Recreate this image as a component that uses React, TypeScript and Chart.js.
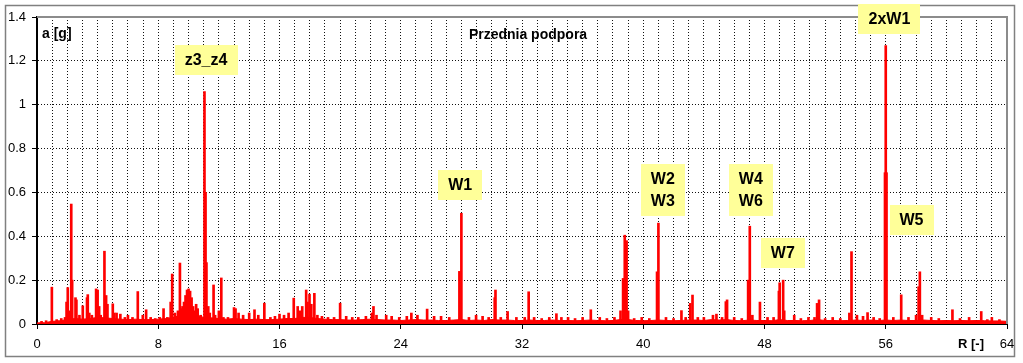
import React, { useEffect, useRef } from 'react';
import { Chart, registerables } from 'chart.js';

Chart.register(...registerables);

const FONT = '"Liberation Sans", Arial, sans-serif';

const chartTitle = 'Przednia podpora';
const yAxisTitle = 'a [g]';
const xAxisTitle = 'R [-]';

const xTickLabels = [0, 8, 16, 24, 32, 40, 48, 56, 64];
const yTickValues = [0, 0.2, 0.4, 0.6, 0.8, 1, 1.2, 1.4];

// Spectrum spikes: order R and amplitude a [g]
const peakR = [
  0.3, 0.6, 0.98, 1.3, 1.6, 1.85, 1.95, 2.03, 2.1, 2.26, 2.32, 2.54, 2.6, 2.8, 3.02, 3.3, 3.35, 3.45, 3.62,
  3.9, 4.0, 4.1, 4.2, 4.45, 4.56, 4.65, 5.0, 5.1, 5.25, 5.5, 5.8, 6.0, 6.3, 6.65, 6.98, 7.2, 7.5, 7.8,
  8.1, 8.35, 8.6, 8.82, 8.92, 9.1, 9.3, 9.43, 9.55, 9.6, 9.7, 9.8, 9.9, 10.0, 10.1, 10.2, 10.3, 10.4,
  10.5, 10.6, 10.8, 11.05, 11.12, 11.18, 11.3, 11.4, 11.65, 11.75, 12.0, 12.16, 12.3, 12.6, 13.0, 13.1,
  13.3, 13.6, 14.0, 14.35, 14.6, 15.0, 15.4, 15.7, 16.0, 16.3, 16.6, 16.94, 17.2, 17.35, 17.5, 17.76,
  17.85, 17.98, 18.1, 18.3, 18.5, 18.8, 19.2, 19.6, 20.0, 20.4, 20.8, 21.2, 21.7, 22.1, 22.2, 22.4,
  23.04, 23.4, 23.9, 24.4, 24.7, 25.1, 25.74, 26.2, 26.66, 27.2, 27.87, 28.0, 28.5, 28.97, 29.4, 29.8,
  30.2, 30.25, 30.6, 31.05, 31.63, 32.18, 32.44, 32.8, 33.3, 33.8, 34.27, 34.6, 35.04, 35.5, 36.0,
  36.54, 37.13, 37.6, 38.1, 38.5, 38.67, 38.78, 38.9, 39.0, 39.4, 39.9, 40.4, 40.91, 41.0, 41.5, 42.0,
  42.52, 42.8, 43.1, 43.25, 43.6, 44.0, 44.6, 44.83, 45.2, 45.45, 45.53, 46.0, 46.5, 46.92, 47.03,
  47.2, 47.7, 48.2, 48.6, 48.95, 49.0, 49.23, 49.3, 49.96, 50.4, 50.9, 51.3, 51.47, 51.6, 52.0, 52.5,
  53.0, 53.6, 53.74, 54.1, 54.5, 54.8, 55.2, 55.6, 55.95, 56.0, 56.05, 56.5, 57.02, 57.5, 58.0, 58.17,
  58.25, 58.4, 59.0, 59.5, 60.4, 60.9, 61.5, 62.3, 62.7, 63.0, 63.5,
];
const peakA = [
  0.012, 0.015, 0.168, 0.02, 0.025, 0.03, 0.1, 0.166, 0.06, 0.547, 0.2, 0.12, 0.11, 0.04, 0.083, 0.12, 0.134, 0.05, 0.04,
  0.16, 0.155, 0.08, 0.04, 0.332, 0.13, 0.09, 0.092, 0.05, 0.05, 0.045, 0.03, 0.04, 0.03, 0.148, 0.04, 0.065, 0.03, 0.025,
  0.03, 0.07, 0.03, 0.1, 0.228, 0.05, 0.06, 0.278, 0.07, 0.08, 0.1, 0.13, 0.155, 0.16, 0.15, 0.12, 0.08, 0.06,
  0.09, 0.07, 0.04, 1.06, 0.6, 0.28, 0.08, 0.05, 0.178, 0.04, 0.06, 0.21, 0.03, 0.03, 0.075, 0.07,
  0.05, 0.04, 0.05, 0.065, 0.04, 0.095, 0.03, 0.035, 0.045, 0.04, 0.05, 0.118, 0.08, 0.06, 0.08, 0.155,
  0.1, 0.136, 0.09, 0.14, 0.04, 0.035, 0.03, 0.03, 0.095, 0.035, 0.03, 0.03, 0.035, 0.05, 0.08, 0.04,
  0.04, 0.035, 0.03, 0.035, 0.05, 0.04, 0.068, 0.035, 0.035, 0.03, 0.24, 0.505, 0.03, 0.04, 0.035, 0.03,
  0.12, 0.155, 0.03, 0.057, 0.03, 0.03, 0.147, 0.03, 0.025, 0.03, 0.047, 0.03, 0.03, 0.025, 0.03,
  0.065, 0.03, 0.025, 0.03, 0.06, 0.208, 0.405, 0.38, 0.06, 0.025, 0.03, 0.025, 0.238, 0.46, 0.03, 0.025,
  0.061, 0.03, 0.094, 0.132, 0.03, 0.03, 0.04, 0.045, 0.03, 0.102, 0.11, 0.03, 0.025, 0.2, 0.446,
  0.04, 0.1, 0.03, 0.03, 0.15, 0.188, 0.2, 0.06, 0.04, 0.025, 0.03, 0.03, 0.094, 0.11, 0.025, 0.03,
  0.025, 0.05, 0.33, 0.04, 0.035, 0.052, 0.03, 0.025, 0.69, 1.27, 0.69, 0.03, 0.133, 0.03, 0.04, 0.17,
  0.238, 0.04, 0.03, 0.025, 0.065, 0.025, 0.03, 0.057, 0.02, 0.03, 0.02,
];

// Noise floor, sampled every 0.5 order from R = 0 to 64
const floorStep = 0.5;
const floorA = [
  0.005, 0.006, 0.012, 0.015, 0.02, 0.025, 0.022, 0.025, 0.03, 0.028, 0.025, 0.022, 0.02, 0.022, 0.02, 0.02,
  0.022, 0.025, 0.03, 0.04, 0.05, 0.04, 0.03, 0.028, 0.025, 0.022, 0.025, 0.022, 0.02, 0.022, 0.02, 0.02,
  0.022, 0.025, 0.025, 0.03, 0.03, 0.025, 0.022, 0.02, 0.02, 0.018, 0.018, 0.02, 0.022, 0.02, 0.018, 0.018,
  0.016, 0.018, 0.02, 0.018, 0.018, 0.016, 0.016, 0.018, 0.02, 0.016, 0.018, 0.016, 0.02, 0.018, 0.018, 0.016,
  0.016, 0.018, 0.016, 0.016, 0.018, 0.016, 0.016, 0.015, 0.016, 0.018, 0.016, 0.015, 0.016, 0.02, 0.02, 0.016,
  0.015, 0.016, 0.018, 0.016, 0.015, 0.016, 0.018, 0.018, 0.016, 0.02, 0.018, 0.02, 0.016, 0.015, 0.018, 0.016,
  0.016, 0.015, 0.02, 0.016, 0.016, 0.015, 0.016, 0.02, 0.016, 0.016, 0.015, 0.016, 0.018, 0.016, 0.018, 0.016,
  0.018, 0.016, 0.018, 0.016, 0.016, 0.018, 0.016, 0.015, 0.016, 0.015, 0.016, 0.015, 0.016, 0.015, 0.014, 0.014,
  0.012,
];

// Annotation boxes: text, centre R, centre a
const annotText = ['z3_z4', 'W1', 'W2\nW3', 'W4\nW6', 'W7', 'W5', '2xW1'];
const annotR = [11.15, 27.92, 41.29, 47.1, 49.21, 57.7, 56.24];
const annotA = [1.206, 0.634, 0.611, 0.611, 0.324, 0.476, 1.393];

const decorPlugin = {
  id: 'decor',
  beforeDraw(chart: any) {
    const ctx = chart.ctx;
    ctx.save();
    ctx.fillStyle = '#ffffff';
    ctx.fillRect(0, 0, chart.width, chart.height);
    ctx.strokeStyle = '#808080';
    ctx.lineWidth = 1.5;
    ctx.strokeRect(5.5, 5.5, 1009, 351);
    ctx.restore();
  },
  afterDraw(chart: any) {
    const { ctx, chartArea: ca, scales } = chart;
    const x = scales.x;
    const y = scales.y;
    ctx.save();
    ctx.strokeStyle = '#8c8c8c';
    ctx.lineWidth = 2;
    ctx.beginPath();
    ctx.moveTo(ca.left, ca.top);
    ctx.lineTo(ca.right, ca.top);
    ctx.lineTo(ca.right, ca.bottom);
    ctx.stroke();

    ctx.fillStyle = '#000';
    ctx.textBaseline = 'middle';
    ctx.font = `bold 14px ${FONT}`;
    ctx.textAlign = 'left';
    ctx.fillText(yAxisTitle, ca.left + 5, 34);
    ctx.textAlign = 'center';
    ctx.fillText(chartTitle, 528, 35);
    ctx.font = `bold 13px ${FONT}`;
    ctx.fillText(xAxisTitle, 971, 344);

    ctx.font = `bold 16px ${FONT}`;
    for (let i = 0; i < annotText.length; i++) {
      const lines = annotText[i].split('\n');
      const tw = Math.max(...lines.map((l) => ctx.measureText(l).width));
      const w = tw + 20;
      const h = lines.length * 22 + 8;
      const cx = x.getPixelForValue(annotR[i]);
      const cy = y.getPixelForValue(annotA[i]);
      ctx.fillStyle = '#ffff99';
      ctx.fillRect(Math.round(cx - w / 2), Math.round(cy - h / 2), Math.round(w), h);
      ctx.fillStyle = '#000';
      lines.forEach((l, j) => {
        ctx.fillText(l, cx, cy - h / 2 + 4 + 11 + j * 22 + 1);
      });
    }
    ctx.restore();
  },
};

export default function App() {
  const ref = useRef<HTMLCanvasElement>(null);
  useEffect(() => {
    document.body.style.margin = '0';
    const spikes = peakR.map((r, i) => ({ x: r, y: peakA[i] }));
    const floor = floorA.map((a, i) => ({ x: i * floorStep, y: a }));
    const chart = new Chart(ref.current as HTMLCanvasElement, {
      type: 'bar',
      data: {
        datasets: [
          {
            type: 'line',
            data: floor,
            borderColor: '#ff0000',
            backgroundColor: '#ff0000',
            borderWidth: 1,
            pointRadius: 0,
            tension: 0,
            fill: 'origin',
            order: 2,
          } as any,
          {
            type: 'bar',
            data: spikes,
            backgroundColor: '#ff0000',
            borderWidth: 0,
            barThickness: 2,
            order: 1,
          } as any,
        ],
      },
      options: {
        animation: false,
        responsive: false,
        devicePixelRatio: 1,
        layout: { padding: { left: 0, top: 17, right: 16, bottom: 0 } },
        plugins: { legend: { display: false }, tooltip: { enabled: false }, title: { display: false } },
        scales: {
          x: {
            type: 'linear',
            min: 0,
            max: 64,
            offset: false,
            afterFit: (s: any) => {
              s.height = 39;
            },
            ticks: {
              stepSize: 1,
              autoSkip: false,
              maxRotation: 0,
              padding: 8,
              color: '#000',
              font: { family: FONT, size: 13 },
              callback: (v: any) => (xTickLabels.includes(Number(v)) ? String(v) : ''),
            },
            grid: {
              offset: false,
              color: '#111',
              lineWidth: 1,
              tickLength: 5,
              tickWidth: 1,
              tickBorderDash: [],
              tickColor: (c: any) => (c.tick && xTickLabels.includes(Number(c.tick.value)) ? '#000' : 'rgba(0,0,0,0)'),
            },
            border: { display: true, color: '#000', width: 2, dash: [1, 2] },
          } as any,
          y: {
            type: 'linear',
            min: 0,
            max: 1.4,
            afterFit: (s: any) => {
              s.width = 37;
            },
            afterBuildTicks: (s: any) => {
              s.ticks = yTickValues.map((v) => ({ value: v }));
            },
            ticks: {
              padding: 6,
              color: '#000',
              font: { family: FONT, size: 13 },
              callback: (v: any) => String(Math.round(Number(v) * 10) / 10),
            },
            grid: {
              color: '#111',
              lineWidth: 1,
              tickLength: 5,
              tickWidth: 1,
              tickBorderDash: [],
              tickColor: '#000',
            },
            border: { display: true, color: '#000', width: 2, dash: [1, 2] },
          } as any,
        },
      },
      plugins: [decorPlugin],
    });
    return () => chart.destroy();
  }, []);
  return (
    <div style={{ position: 'fixed', left: 0, top: 0, width: 1023, height: 363 }}>
      <canvas ref={ref} width={1023} height={363} style={{ width: 1023, height: 363, display: 'block' }} />
    </div>
  );
}
